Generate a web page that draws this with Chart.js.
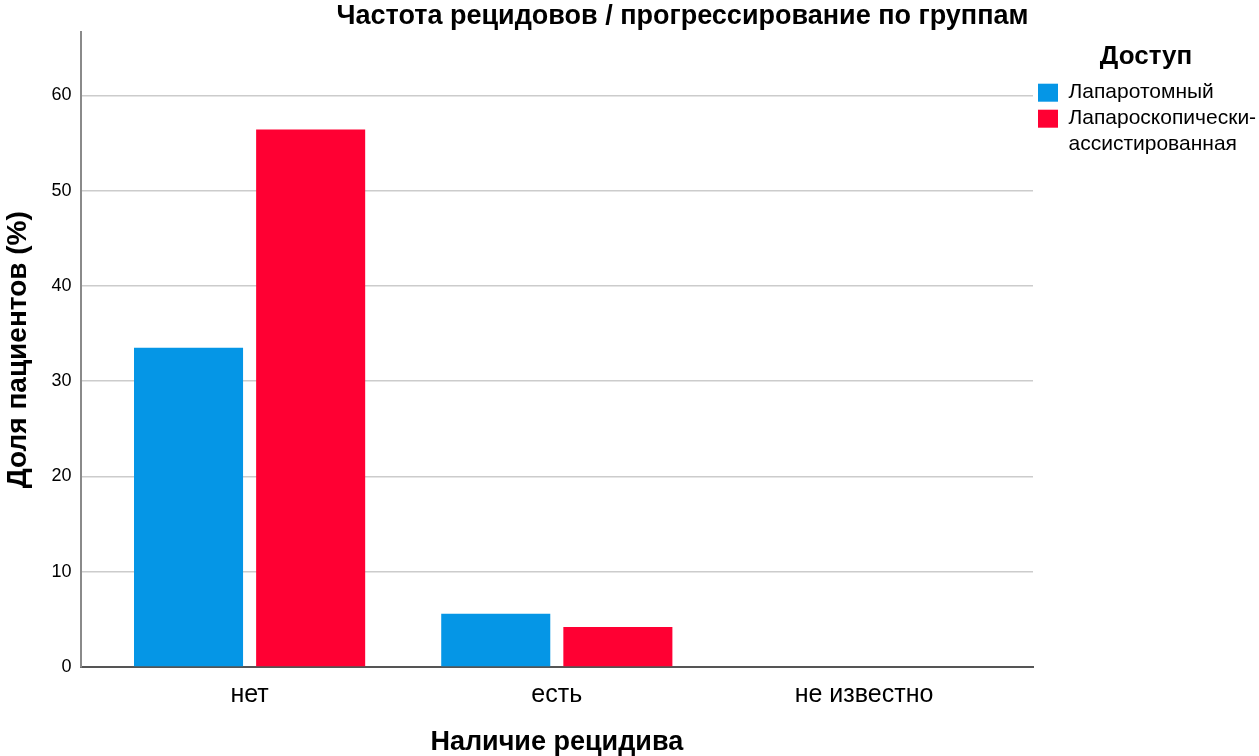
<!DOCTYPE html>
<html>
<head>
<meta charset="utf-8">
<script src="https://cdn.jsdelivr.net/npm/chart.js@4/dist/chart.umd.min.js"></script>
<style>
  html, body { margin: 0; padding: 0; background: #fff; }
  #wrap { width: 1259px; height: 756px; }
</style>
</head>
<body>
<div id="wrap"><canvas id="chart" width="1259" height="756"></canvas></div>
<script>
// Values (percent of patients)
const categories = ['нет', 'есть', 'не известно'];
const laparotomy = [33.5, 5.6, 0];
const laparoscopic = [56.4, 4.2, 0];
const seriesNames = ['Лапаротомный', ['Лапароскопически-', 'ассистированная']];
const yTicks = [0, 10, 20, 30, 40, 50, 60];

const FONT = "'Liberation Sans', Arial, sans-serif";
Chart.defaults.font.family = FONT;
Chart.defaults.color = '#000';

// points on a linear x axis so the groups can sit with SPSS-like side margins
const toPoints = (vals) => vals.map((v, i) => ({ x: i, y: v }));

// SPSS centres the title a bit right of the canvas middle
const shiftTitle = {
  id: 'shiftTitle',
  afterLayout(chart) {
    const t = chart.titleBlock;
    if (t) { t.left = 106; t.right = 1259; }
  },
};

new Chart(document.getElementById('chart'), {
  type: 'bar',
  data: {
    datasets: [
      {
        label: seriesNames[0],
        data: toPoints(laparotomy),
        backgroundColor: '#0596E6',
        categoryPercentage: 0.795,
        barPercentage: 0.893,
      },
      {
        label: seriesNames[1],
        data: toPoints(laparoscopic),
        backgroundColor: '#FF0033',
        categoryPercentage: 0.795,
        barPercentage: 0.893,
      },
    ],
  },
  options: {
    responsive: false,
    animation: false,
    layout: { padding: { left: 1, right: 0, top: 0, bottom: 0 } },
    plugins: {
      tooltip: { enabled: false },
      title: {
        display: true,
        text: 'Частота рецидовов / прогрессирование по группам',
        font: { size: 27, weight: 'bold' },
        color: '#000',
        padding: { top: 0, bottom: 0 },
      },
      legend: {
        position: 'right',
        align: 'start',
        maxWidth: 226,
        title: {
          display: true,
          text: 'Доступ',
          font: { size: 26, weight: 'bold' },
          color: '#000',
          padding: { top: 44, bottom: 2 },
        },
        labels: {
          boxWidth: 20,
          boxHeight: 18,
          padding: 5,
          font: { size: 21 },
          color: '#000',
        },
      },
    },
    scales: {
      x: {
        type: 'linear',
        offset: false,
        min: -0.55,
        max: 2.55,
        afterBuildTicks: (scale) => { scale.ticks = categories.map((_, i) => ({ value: i })); },
        ticks: {
          font: { size: 25 },
          color: '#000',
          padding: 13,
          callback: (v) => categories[v] ?? '',
        },
        grid: { display: false, drawTicks: false, offset: false },
        border: { display: true, color: '#555', width: 2 },
        title: {
          display: true,
          text: 'Наличие рецидива',
          font: { size: 27, weight: 'bold', lineHeight: 1 },
          color: '#000',
          padding: { top: 6, bottom: 0 },
        },
      },
      y: {
        min: 0,
        max: 66.6,
        afterBuildTicks: (scale) => { scale.ticks = yTicks.map((v) => ({ value: v })); },
        ticks: { font: { size: 18 }, color: '#000', padding: 9 },
        grid: { color: '#cccccc', lineWidth: 1.5, drawTicks: false },
        border: { display: true, color: '#8a8a8a', width: 2 },
        title: {
          display: true,
          text: 'Доля пациентов (%)',
          font: { size: 28, weight: 'bold' },
          color: '#000',
          padding: { top: 0, bottom: 8 },
        },
      },
    },
  },
  plugins: [shiftTitle],
});
</script>
</body>
</html>
